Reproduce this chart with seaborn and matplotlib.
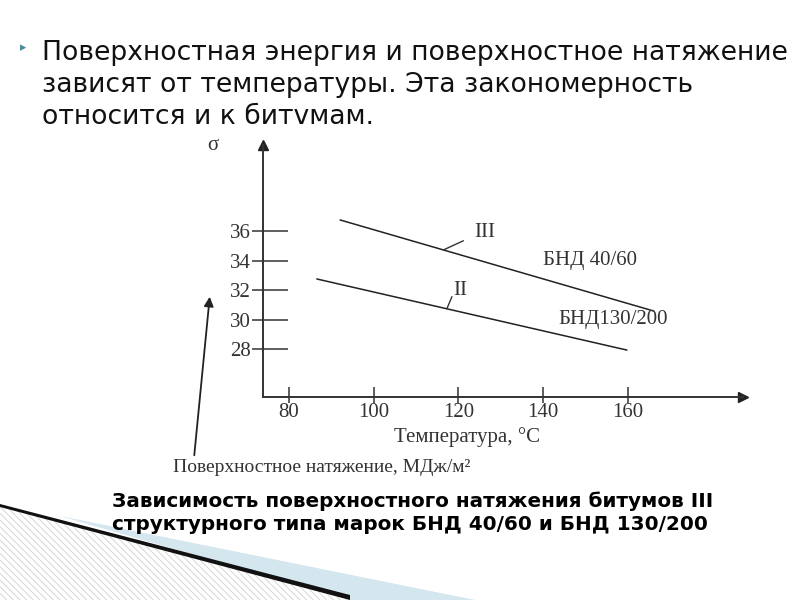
import matplotlib
matplotlib.use("Agg")
import matplotlib.pyplot as plt
from matplotlib.patches import Polygon
from matplotlib.ticker import FixedLocator
import numpy as np
import pandas as pd
import seaborn as sns

# ---- data ----
temp_III = [92.1, 166.1]
sigma_III = [36.75, 30.58]
temp_II = [86.6, 159.8]
sigma_II = [32.75, 27.93]
x_ticks = [80, 100, 120, 140, 160]
y_ticks = [28, 30, 32, 34, 36]

heading = ("Поверхностная энергия и поверхностное натяжение\n"
           "зависят от температуры. Эта закономерность\n"
           "относится и к битvмам.")
caption = ("Зависимость поверхностного натяжения битумов III\n"
           "структурного типа марок БНД 40/60 и БНД 130/200")

df = pd.concat([
    pd.DataFrame({"T": temp_III, "sigma": sigma_III, "type": "III"}),
    pd.DataFrame({"T": temp_II, "sigma": sigma_II, "type": "II"}),
])

sns.set_theme(style="white")
plt.rcParams["font.family"] = ["Liberation Serif", "DejaVu Serif"]

W, H = 800, 600
fig = plt.figure(figsize=(8, 6), dpi=100)
fig.patch.set_facecolor("white")

def fx(px):
    return px / W

def fy(py):
    return 1 - py / H

TXT = "#333333"

# ---- decoration bottom-left ----
deco = fig.add_axes([0, 0, 1, 1], zorder=-5)
deco.set_xlim(0, W)
deco.set_ylim(H, 0)
deco.axis("off")
plt.rcParams["hatch.linewidth"] = 0.6
deco.add_patch(Polygon([(0, 506), (350, 600), (0, 600)], closed=True,
                       facecolor="white", edgecolor="#cfcfcf", hatch="\\\\\\\\\\", lw=0))
deco.add_patch(Polygon([(60, 516), (475, 600), (350, 600)], closed=True,
                       facecolor="#d4e6ee", edgecolor="none"))
deco.add_patch(Polygon([(0, 504), (350, 595), (350, 600), (0, 507)], closed=True,
                       facecolor="#111111", edgecolor="none"))

# ---- chart axes ----
left, right, top, bottom = 263, 743, 145, 397
ax = fig.add_axes([fx(left), fy(bottom), (right - left) / W, (bottom - top) / H])
ax.set_facecolor("none")

sns.lineplot(data=df, x="T", y="sigma", units="type", estimator=None,
             color="#222222", lw=1.1, ax=ax, legend=False)

ax.set_xlim(73.9, 187.2)
ax.set_ylim(24.75, 41.83)

for s in ["top", "right"]:
    ax.spines[s].set_visible(False)
for s in ["left", "bottom"]:
    ax.spines[s].set_color("#333333")
    ax.spines[s].set_linewidth(1.4)

ax.plot([1], [0], marker=">", color="#222222", ms=7, transform=ax.transAxes, clip_on=False)
ax.plot([0], [1], marker="^", color="#222222", ms=7, transform=ax.transAxes, clip_on=False)

ax.xaxis.set_major_locator(FixedLocator(x_ticks))
ax.xaxis.set_minor_locator(FixedLocator(x_ticks))
ax.yaxis.set_major_locator(FixedLocator(y_ticks))
ax.yaxis.set_minor_locator(FixedLocator(y_ticks))
ax.xaxis.remove_overlapping_locs = False
ax.yaxis.remove_overlapping_locs = False

FS = 15
ax.tick_params(axis="y", which="major", direction="in", length=18, width=1.1,
               color="#333333", pad=9, labelsize=FS, labelcolor=TXT, left=True)
ax.tick_params(axis="y", which="minor", direction="out", length=8, width=1.1,
               color="#333333", left=True)
ax.tick_params(axis="x", which="major", direction="in", length=7, width=1.1,
               color="#333333", pad=4, labelsize=FS, labelcolor=TXT, bottom=True)
ax.tick_params(axis="x", which="minor", direction="out", length=4, width=1.1,
               color="#333333", bottom=True)

ax.set_xlabel("Температура, °C", fontsize=FS, color=TXT)
ax.xaxis.set_label_coords((467 - left) / (right - left), -(437 - bottom) / (bottom - top))
ax.xaxis.label.set_va("center")
ax.set_ylabel("")

# labels of the curves with short leader lines
ax.text(126.3, 35.93, "III", fontsize=FS, color=TXT, ha="center", va="center")
ax.annotate("", xy=(116.5, 34.72), xytext=(121.2, 35.34),
            arrowprops=dict(arrowstyle="-", color="#333333", lw=1, shrinkA=0, shrinkB=0))
ax.text(120.4, 32.0, "II", fontsize=FS, color=TXT, ha="center", va="center")
ax.annotate("", xy=(117.3, 30.73), xytext=(118.5, 31.55),
            arrowprops=dict(arrowstyle="-", color="#333333", lw=1, shrinkA=0, shrinkB=0))
ax.text(151.1, 33.97, "БНД 40/60", fontsize=FS, color=TXT, ha="center", va="center")
ax.text(156.6, 29.97, "БНД130/200", fontsize=FS, color=TXT, ha="center", va="center")

ax.text(-0.104, 1.0, "σ", transform=ax.transAxes, fontsize=FS, color=TXT,
        ha="center", va="center")

# y-axis title with pointer arrow
fig.text(fx(322), fy(467), "Поверхностное натяжение, МДж/м²", fontsize=14,
         color=TXT, ha="center", va="center")
deco2 = fig.add_axes([0, 0, 1, 1], zorder=5)
deco2.set_xlim(0, W)
deco2.set_ylim(H, 0)
deco2.axis("off")
deco2.annotate("", xy=(210, 294), xytext=(194, 458),
               arrowprops=dict(arrowstyle="-|>", color="#222222", lw=1.3, mutation_scale=14))

# ---- heading ----
fig.text(fx(20), fy(48), "▸", fontsize=9, color="#4a8c9c", ha="left", va="center",
         family=["DejaVu Sans"])
fig.text(fx(42), fy(40), heading, fontsize=19.2, color="#111111", ha="left", va="top",
         family=["DejaVu Sans"], linespacing=1.3)

# ---- caption ----
fig.text(fx(112), fy(491), caption, fontsize=14.4, color="#000000", ha="left", va="top",
         family=["DejaVu Sans"], fontweight="bold", linespacing=1.32)

fig.savefig("out.png", dpi=100)
